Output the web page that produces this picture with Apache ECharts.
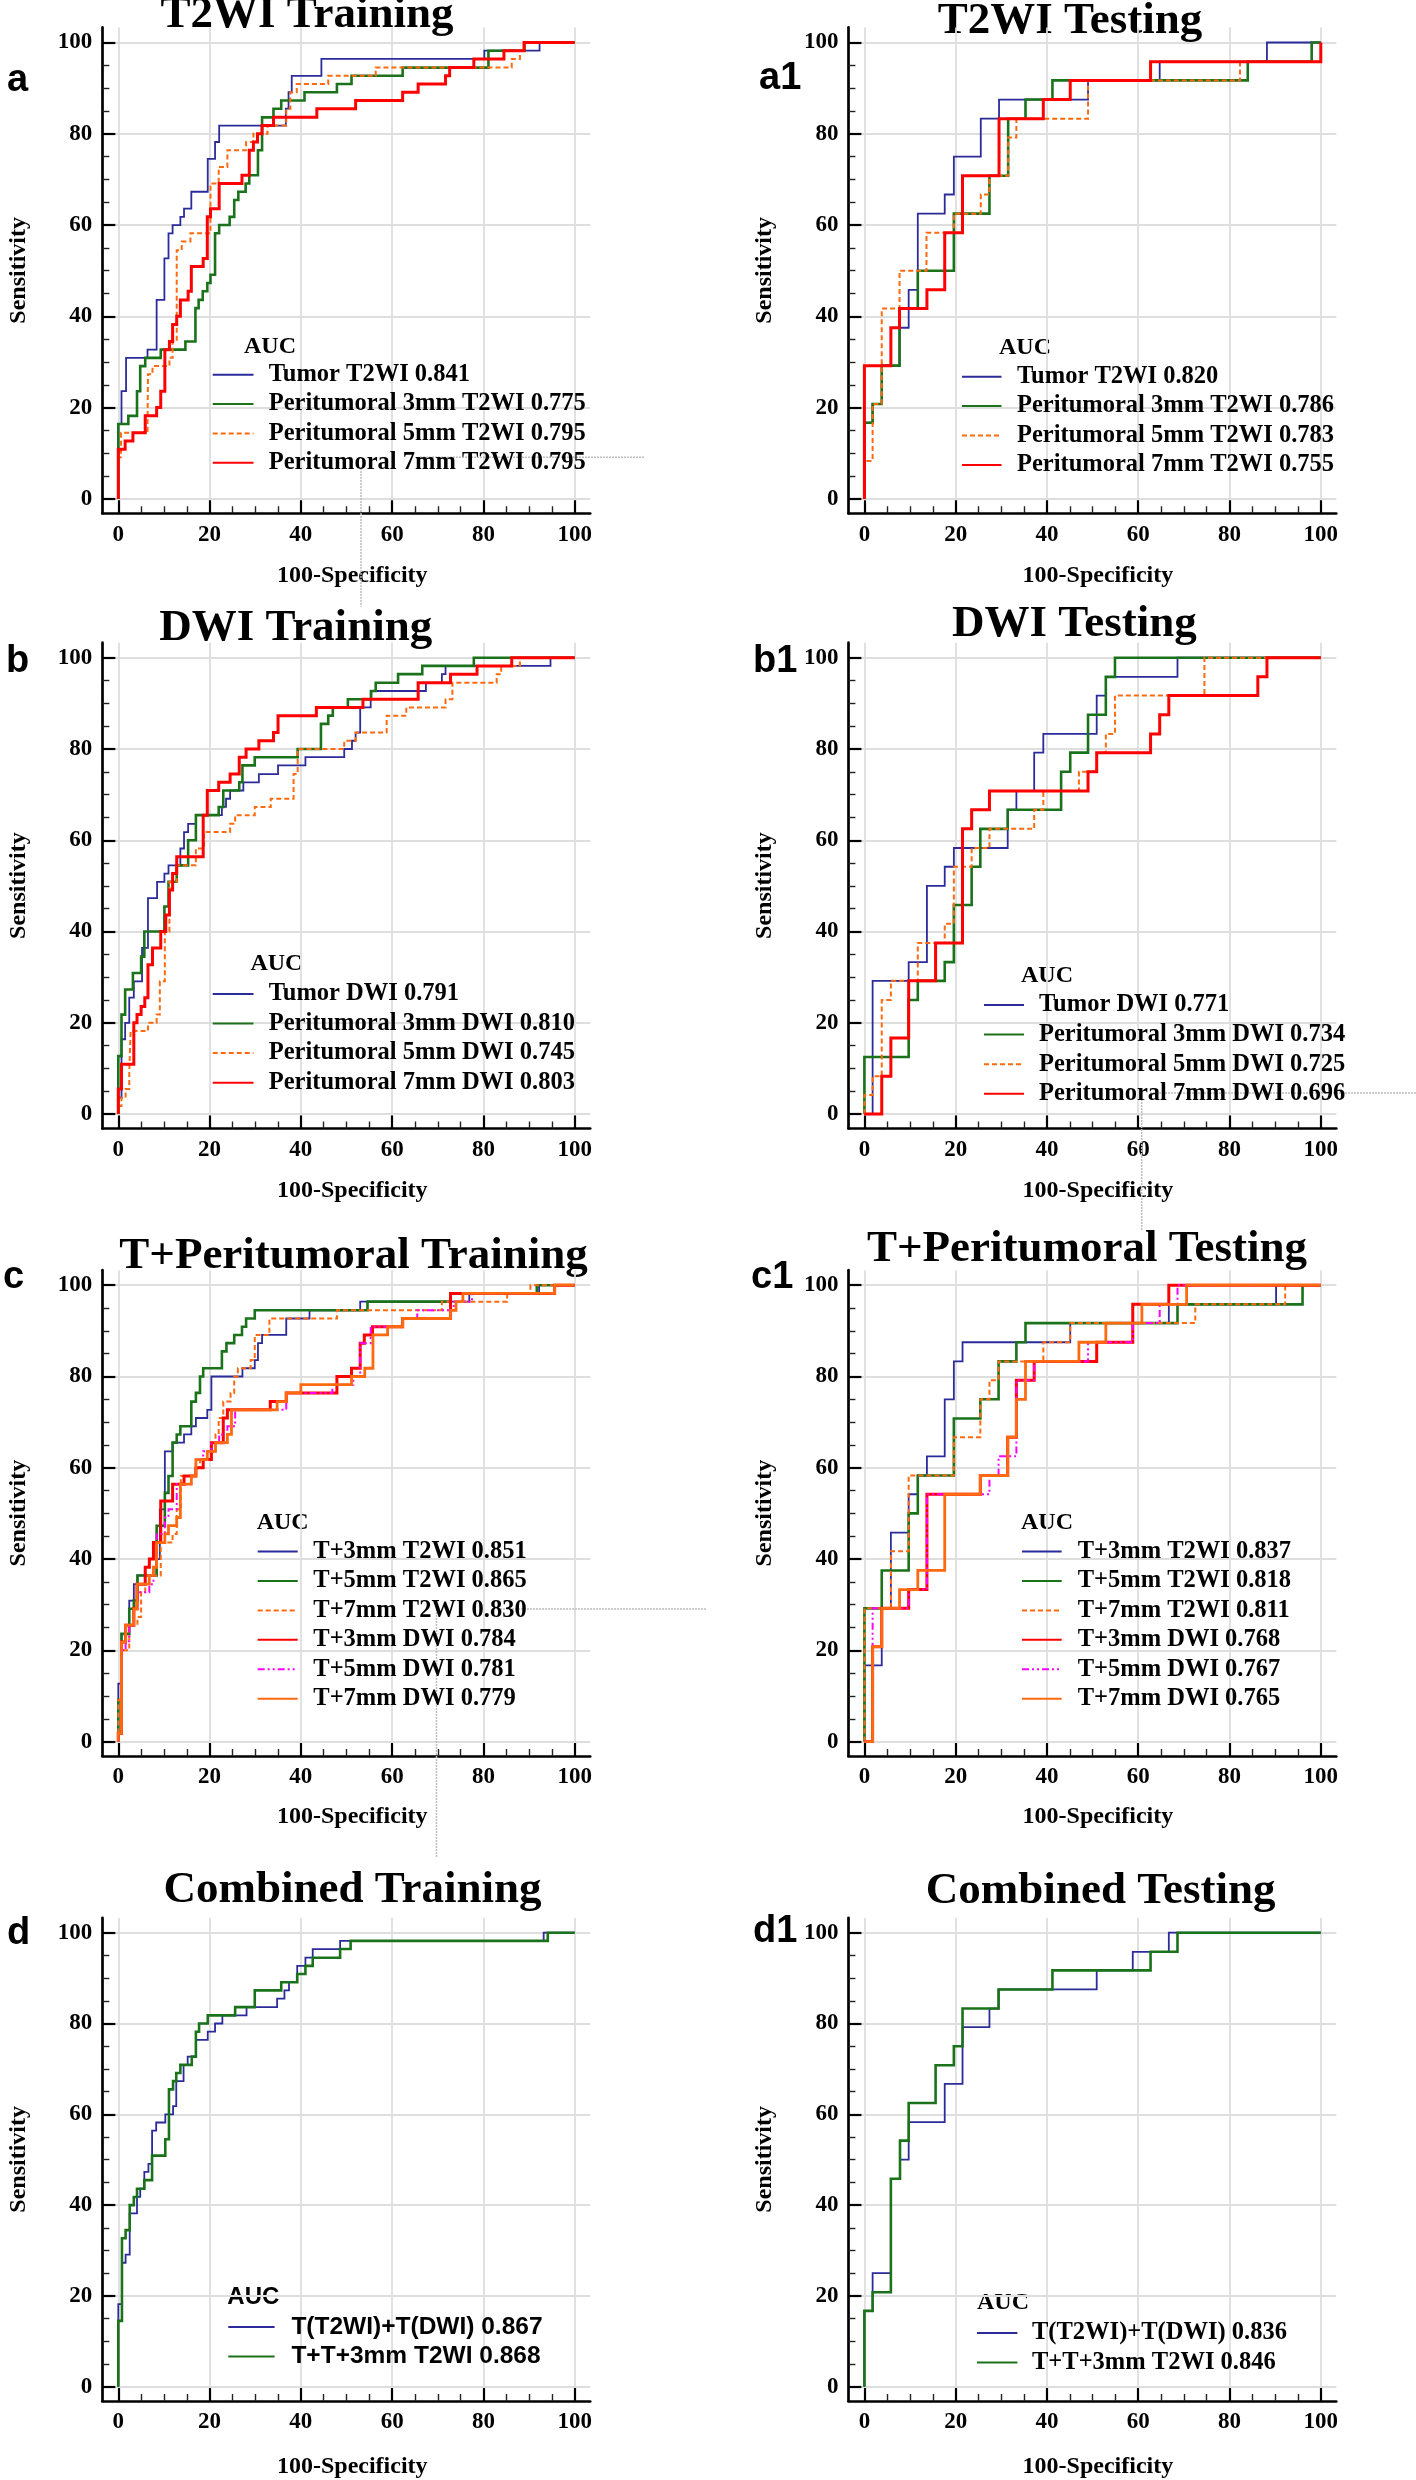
<!DOCTYPE html>
<html><head><meta charset="utf-8">
<script src="https://cdn.jsdelivr.net/npm/echarts@6/dist/echarts.min.js"></script>
<style>html,body{margin:0;padding:0;background:#fff}#c{width:1416px;height:2480px}</style>
</head><body><div id="c"></div>
<script>
// ---------- tick values ----------
const MAJOR = [0, 20, 40, 60, 80, 100];
const MINOR = [5, 10, 15, 25, 30, 35, 45, 50, 55, 65, 70, 75, 85, 90, 95];

// ---------- legend names ----------
const aNames = ['Tumor T2WI 0.841', 'Peritumoral 3mm T2WI 0.775', 'Peritumoral 5mm T2WI 0.795', 'Peritumoral 7mm T2WI 0.795'];
const a1Names = ['Tumor T2WI 0.820', 'Peritumoral 3mm T2WI 0.786', 'Peritumoral 5mm T2WI 0.783', 'Peritumoral 7mm T2WI 0.755'];
const bNames = ['Tumor DWI 0.791', 'Peritumoral 3mm DWI 0.810', 'Peritumoral 5mm DWI 0.745', 'Peritumoral 7mm DWI 0.803'];
const b1Names = ['Tumor DWI 0.771', 'Peritumoral 3mm DWI 0.734', 'Peritumoral 5mm DWI 0.725', 'Peritumoral 7mm DWI 0.696'];
const cNames = ['T+3mm T2WI 0.851', 'T+5mm T2WI 0.865', 'T+7mm T2WI 0.830', 'T+3mm DWI 0.784', 'T+5mm DWI 0.781', 'T+7mm DWI 0.779'];
const c1Names = ['T+3mm T2WI 0.837', 'T+5mm T2WI 0.818', 'T+7mm T2WI 0.811', 'T+3mm DWI 0.768', 'T+5mm DWI 0.767', 'T+7mm DWI 0.765'];
const dNames = ['T(T2WI)+T(DWI) 0.867', 'T+T+3mm T2WI 0.868'];
const d1Names = ['T(T2WI)+T(DWI) 0.836', 'T+T+3mm T2WI 0.846'];

// ---------- ROC curves: [100-specificity where curve rises, sensitivity after rise] ----------
const aBlue = [[0,0],[0,16.4],[0.7,23.6],[1.7,30.9],[6.4,32.7],[8.4,43.6],[10.1,52.7],[11,58.2],[11.9,60],[13.6,61.8],[14.4,63.6],[16,67.3],[19.6,74.5],[21.2,78.2],[22.1,81.8],[36.7,85.5],[37.3,89.1],[38,92.7],[44.5,96.4],[80.2,98.2],[92.3,100],[100,100]];
const aGreen = [[0,0],[0,16.4],[2.2,18.2],[4.1,23.6],[4.8,29.1],[5.9,30.9],[9.3,32.7],[14.7,34.5],[16.9,41.8],[17.6,43.6],[18.5,45.5],[19.5,47.3],[20.2,49.1],[21.2,58.2],[22.1,60],[24.4,61.8],[25.4,65.5],[26.3,67.3],[27.9,69.1],[28.7,70.9],[30.6,76.4],[31.5,83.6],[34,85.5],[35.7,87.3],[40.8,89.1],[47.9,90.9],[51.1,92.7],[62.3,94.5],[81.1,98.2],[89,100],[100,100]];
const aOrange = [[0,0],[0,9.1],[0.6,14.5],[6.4,16.4],[6.5,27.3],[7.5,29.1],[11.2,30.9],[11.9,34.5],[12.8,54.5],[13.9,56.4],[15.8,58.2],[20.2,69.1],[22,72.7],[23.9,76.4],[28,78.2],[29.6,80],[32.7,81.8],[36.8,85.5],[37.7,89.1],[39.1,90.9],[46,92.7],[56.4,94.5],[86.2,96.4],[88,98.2],[89,100],[100,100]];
const aRed = [[0,0],[0,10.9],[1.5,12.7],[3.2,14.5],[5.9,18.2],[8.4,20],[9.3,23.6],[10.2,32.7],[11.2,34.5],[11.9,38.2],[12.8,40],[13.6,43.6],[15.3,45.5],[16,50.9],[18.6,52.7],[19.5,61.8],[20.2,63.6],[22.1,69.1],[27.1,70.9],[28.7,76.4],[29.6,78.2],[30.5,80],[31.5,81.8],[34,83.6],[43.5,85.5],[52,87.3],[62.3,89.1],[65.7,90.9],[71.7,92.7],[72.6,94.5],[77.9,96.4],[84.5,98.2],[88.9,100],[100,100]];

const a1Blue = [[0,0],[0,16.7],[1.8,20.8],[3.8,29.2],[7.7,37.5],[9.7,45.8],[11.7,62.5],[17.6,66.7],[19.6,75],[25.5,83.3],[29.5,87.5],[49,91.7],[64.7,95.8],[88.2,100],[100,100]];
const a1Green = [[0,0],[0,16.7],[1.8,20.8],[3.8,29.2],[7.7,41.7],[11.7,50],[19.6,62.5],[27.4,70.8],[31.5,83.3],[35.3,87.5],[41.2,91.7],[84,95.8],[98,100],[100,100]];
const a1Orange = [[0,0],[0,8.3],[1.8,20.8],[3.8,41.7],[7.7,50],[13.6,58.3],[19.6,62.5],[25.5,66.7],[27.4,70.8],[31.5,79.2],[33.3,83.3],[49,91.7],[82.3,95.8],[100,100]];
const a1Red = [[0,0],[0,29.2],[5.8,37.5],[7.7,41.7],[13.7,45.8],[17.6,58.3],[21.5,70.8],[29.5,83.3],[39.2,87.5],[45.1,91.7],[62.7,95.8],[100,100]];

const bBlue = [[0,0],[0,3.6],[0.7,16.4],[1.5,20],[2.4,25.5],[3.4,29.1],[5.2,36.4],[6.5,47.3],[8.5,50.9],[10.1,52.7],[11,54.5],[13.6,58.2],[14.4,61.8],[15.3,63.6],[17,65.5],[22.7,67.3],[23.6,69.1],[24.5,70.9],[27.4,72.7],[30.8,74.5],[35,76.4],[41,78.2],[49.5,80],[51.2,81.8],[52,83.6],[53,89.1],[55.3,92.7],[67.4,94.5],[70.9,96.4],[71.7,98.2],[94.7,100],[100,100]];
const bGreen = [[0,0],[0,12.7],[0.7,21.8],[1.5,27.3],[3.2,30.9],[5,34.5],[5.7,40],[10.1,45.5],[11,50.9],[12.8,54.5],[15.3,60],[17,65.5],[22,67.3],[23,70.9],[26.5,72.7],[27.2,76.4],[29.9,78.2],[39.3,80],[44.4,85.5],[46,87.3],[47,89.1],[50.3,90.9],[55.4,92.7],[56.4,94.5],[61.3,96.4],[66.6,98.2],[77.9,100],[100,100]];
const bOrange = [[0,0],[0,1.8],[0.7,3.6],[1.6,5.5],[2.4,9.1],[2.7,18.2],[6.5,20],[8.4,21.8],[9.1,29.1],[10.2,40],[11.2,50.9],[12.8,54.5],[17,58.2],[18.8,61.8],[24.5,63.6],[25.6,65.5],[29.9,67.3],[33.4,69.1],[38.4,74.5],[39.3,80],[49.5,81.8],[52,83.6],[58.8,87.3],[63.1,89.1],[71.7,90.9],[73.2,94.5],[82.9,96.4],[83.9,98.2],[88,100],[100,100]];
const bRed = [[0,0],[0,5.5],[0.7,10.9],[3.4,20],[4.1,21.8],[5,23.6],[5.8,25.5],[6.5,32.7],[7.5,36.4],[9.3,40],[10.4,43.6],[11.2,49.1],[11.9,52.7],[12.8,56.4],[18.6,65.5],[19.5,70.9],[22,72.7],[24.5,74.5],[26.5,78.2],[28,80],[30.8,81.8],[34,83.6],[35,87.3],[43.4,89.1],[53.6,90.9],[65.7,94.5],[72.8,96.4],[78.6,98.2],[86.2,100],[100,100]];

const b1Blue = [[0,0],[1.8,29.2],[9.7,33.3],[13.7,50],[17.6,54.2],[19.6,58.3],[31.4,66.7],[33.3,70.8],[37.2,79.2],[39.2,83.3],[50.9,91.7],[52.9,95.8],[68.6,100],[100,100]];
const b1Green = [[0,0],[0,12.5],[9.7,25],[11.7,29.2],[17.6,33.3],[19.6,45.8],[23.5,54.2],[25.4,62.5],[31.4,66.7],[43.1,75],[45.1,79.2],[49,87.5],[52.9,95.8],[54.9,100],[100,100]];
const b1Orange = [[0,0],[0,4.2],[1.8,8.3],[3.8,25],[5.8,29.2],[11.7,37.5],[17.6,41.7],[19.6,54.2],[23.5,58.3],[27.4,62.5],[37.2,66.7],[39.2,70.8],[47,75],[50.9,79.2],[52.9,83.3],[54.9,91.7],[74.5,100],[100,100]];
const b1Red = [[0,0],[3.8,8.3],[5.8,16.7],[9.7,29.2],[15.6,37.5],[21.5,62.5],[23.5,66.7],[27.4,70.8],[49,75],[50.9,79.2],[62.7,83.3],[64.7,87.5],[66.7,91.7],[86.2,95.8],[88.2,100],[100,100]];

const cBlue = [[0,0],[0,12.7],[0.7,23.6],[2.4,30.9],[3.4,34.5],[4.2,36.4],[8.4,40],[9.1,50.9],[10.2,63.6],[11.9,65.5],[14.4,67.3],[16,69.1],[17,70.9],[19.5,72.7],[20.4,80],[27.2,81.8],[29.9,83.6],[30.6,87.3],[31.5,89.1],[36.8,92.7],[41.9,94.5],[53,96.4],[76.9,98.2],[92.2,100],[100,100]];
const cGreen = [[0,0],[0,9.1],[0.7,23.6],[2.4,29.1],[3.4,30.9],[4.2,36.4],[8.4,47.3],[10.2,54.5],[11,58.2],[11.9,65.5],[12.8,67.3],[13.6,69.1],[16,74.5],[17,76.4],[17.9,80],[18.6,81.8],[22.7,85.5],[23.7,87.3],[25.4,89.1],[27.1,90.9],[28,92.7],[29.9,94.5],[54.6,96.4],[72.8,98.2],[91.7,100],[100,100]];
const cOrangeD = [[0,0],[0,9.1],[0.7,20],[2.4,25.5],[4.2,27.3],[5,32.7],[5.9,36.4],[9.3,43.6],[11.9,45.5],[12.8,50.9],[13.7,58.2],[17,60],[17.9,61.8],[19.5,63.6],[21.3,67.3],[22,70.9],[23,74.5],[24.6,76.4],[25.4,80],[26.2,81.8],[29,83.6],[29.9,89.1],[33.1,92.7],[47.9,94.5],[70.9,96.4],[85.2,98.2],[90.3,100],[100,100]];
const cRed = [[0,0],[0,1.8],[0.7,21.8],[1.6,25.5],[3.4,29.1],[4.1,34.5],[5.9,38.2],[6.8,40],[7.7,43.6],[9.3,52.7],[11.9,56.4],[14.4,58.2],[17,60],[18.6,61.8],[20.4,65.5],[23,70.9],[23.9,72.7],[33.3,74.5],[36.8,76.4],[47.9,80],[51.1,81.8],[53,87.3],[53.9,89.1],[55.7,90.9],[62.3,92.7],[72.8,98.2],[95.6,100],[100,100]];
const cMagenta = [[0,0],[0,1.8],[0.7,20],[1.6,22],[2.4,25.5],[3.4,29.1],[4.2,32.7],[6.8,34.5],[7.7,38.2],[8.4,45.5],[10.2,49.1],[11,50.9],[12.8,56.4],[16,58.2],[17,61.8],[18.6,63.6],[20.4,65.5],[22.1,67.3],[23.9,69.1],[25.6,72.7],[36.8,76.4],[46.9,78.2],[51.5,80],[53,87.3],[55.3,90.9],[62.3,92.7],[65.5,94.5],[73.5,96.4],[77.5,98.2],[95.6,100],[100,100]];
const cOrangeS = [[0,0],[0,1.8],[0.7,21.8],[1.6,25.5],[3.4,29.1],[4.1,34.5],[6.8,36.4],[7.7,38.2],[8.4,43.6],[10.2,45.5],[11,47.3],[12.8,49.1],[13.6,56.4],[16,58.2],[17,61.8],[19.5,63.6],[21.3,65.5],[23.9,67.3],[24.8,72.7],[34.8,74.5],[36.8,76.4],[40,78.2],[51.1,80],[54,81.8],[55.8,89.1],[59,90.9],[62.3,92.7],[72.8,94.5],[74,96.4],[75.5,98.2],[95.6,100],[100,100]];

const c1Blue = [[0,0],[0,16.7],[3.8,29.2],[5.8,45.8],[9.7,54.2],[11.7,58.3],[13.7,62.5],[17.6,75],[19.6,83.3],[21.5,87.5],[45.1,91.7],[66.7,95.8],[90.2,100],[100,100]];
const c1Green = [[0,0],[0,29.2],[3.8,37.5],[9.7,50],[11.7,58.3],[19.6,70.8],[25.4,75],[29.4,83.3],[33.3,87.5],[35.3,91.7],[68.6,95.8],[96,100],[100,100]];
const c1OrangeD = [[0,0],[0,29.2],[5.8,41.7],[9.7,58.3],[19.6,66.7],[25.4,75],[27.4,79.2],[29.4,83.3],[39.2,87.5],[45.1,91.7],[72.5,95.8],[92.2,100],[100,100]];
const c1Red = [[0,0],[1.8,20.8],[3.8,29.2],[9.7,33.3],[13.7,54.2],[25.4,58.3],[31.4,66.7],[33.3,79.2],[37.2,83.3],[50.9,87.5],[58.8,95.8],[66.7,100],[100,100]];
const c1Magenta = [[0,0],[1.8,29.2],[9.7,33.3],[13.7,54.2],[27.4,58.3],[29.4,62.5],[33.3,79.2],[37.2,83.3],[49,87.5],[58.8,91.7],[64.7,95.8],[68.6,100],[100,100]];
const c1OrangeS = [[0,0],[1.8,20.8],[3.8,29.2],[7.7,33.3],[11.7,37.5],[17.6,54.2],[25.4,58.3],[31.4,66.7],[33.3,75],[35.3,83.3],[47,87.5],[52.9,91.7],[60.8,95.8],[70.6,100],[100,100]];

const dBlue = [[0,0],[0,18.2],[0.8,27.3],[1.6,29.1],[2.5,38.2],[4.1,41.8],[4.8,43.6],[5.7,47.3],[6.6,49.1],[7.4,56.4],[8.3,58.2],[10.3,60],[12,61.8],[12.7,67.3],[14.3,70.9],[15.2,72.7],[17,76.4],[19.6,78.2],[21.2,80],[22.8,81.8],[28.1,83.6],[34.8,85.5],[36.4,87.3],[37.4,89.1],[39.2,92.7],[41,94.5],[42.6,96.4],[48.6,98.2],[93.2,100],[100,100]];
const dGreen = [[0,0],[0,14.5],[0.8,32.7],[1.6,34.5],[2.5,40],[3.4,41.8],[4.1,43.6],[5.7,45.5],[7.4,50.9],[10.3,54.5],[11.1,65.5],[12,67.3],[12.7,69.1],[13.6,70.9],[16.1,72.7],[17,78.2],[17.7,80],[19.6,81.8],[25.6,83.6],[29.9,87.3],[35.7,89.1],[39.2,90.9],[41,92.7],[42.6,94.5],[48.6,96.4],[50.9,98.2],[94.1,100],[100,100]];

const d1Blue = [[0,0],[0,16.7],[1.8,25],[5.8,45.8],[7.8,50],[9.7,58.3],[17.6,66.7],[21.5,79.2],[27.4,83.3],[29.4,87.5],[50.9,91.7],[58.8,95.8],[66.7,100],[100,100]];
const d1Green = [[0,0],[0,16.7],[1.8,20.8],[5.8,45.8],[7.8,54.2],[9.7,62.5],[15.6,70.8],[19.6,75],[21.5,83.3],[29.4,87.5],[41.2,91.7],[62.7,95.8],[68.6,100],[100,100]];

// ---------- styles / layout ----------
const SERIF = '"Liberation Serif", "Times New Roman", serif';
const SANS = '"Liberation Sans", Arial, sans-serif';
const STYLES = {
  blue:    { color: '#2B2B9C', width: 1.8, type: 'solid' },
  green:   { color: '#1A721A', width: 2.6, type: 'solid' },
  orangeD: { color: '#FF6A10', width: 2.0, type: [5, 3] },
  red:     { color: '#FF0000', width: 3.0, type: 'solid' },
  magenta: { color: '#FF00FF', width: 2.0, type: [7, 3, 2, 3, 2, 3] },
  orangeS: { color: '#FF6A10', width: 2.8, type: 'solid' }
};
const PPU = 4.564, XMIN = -3.5, XMAX = 103.4, YMIN = -3.15, YMAX = 103.3;
const COLX0 = [118.3, 864.4];
const ROWY100 = [42.5, 657.7, 1285.2, 1932.8];
const XNAMEGAP = [51, 50, 49, 54];

const PANELS = [
  { col:0,row:0, title:'T2WI Training', tx:307, ty:15.4, letter:'a', lx:7, ly:80.6, auc:[244,346.4], leg:[211.7,374.3,28.3,40.8,15.2], font:SERIF,
    names:aNames, data:[aBlue,aGreen,aOrange,aRed], st:['blue','green','orangeD','red'], npad:12 },
  { col:1,row:0, title:'T2WI Testing', tx:1070, ty:21.2, letter:'a1', lx:759, ly:78.8, auc:[999,347.5], leg:[961,376.2,28.4,39.5,15.5], font:SERIF,
    names:a1Names, data:[a1Blue,a1Green,a1Orange,a1Red], st:['blue','green','orangeD','red'], npad:11 },
  { col:0,row:1, title:'DWI Training', tx:295.7, ty:628.3, letter:'b', lx:6, ly:661.9, auc:[250.4,963.8], leg:[211.7,993.4,28.6,40.8,15.2], font:SERIF,
    names:bNames, data:[bBlue,bGreen,bOrange,bRed], st:['blue','green','orangeD','red'], npad:12 },
  { col:1,row:1, title:'DWI Testing', tx:1074.4, ty:624.3, letter:'b1', lx:753, ly:661.8, auc:[1021,975.6], leg:[983,1004.5,28.6,40,15], font:SERIF,
    names:b1Names, data:[b1Blue,b1Green,b1Orange,b1Red], st:['blue','green','orangeD','red'], npad:11 },
  { col:0,row:2, title:'T+Peritumoral Training', tx:353.5, ty:1256.2, letter:'c', lx:3, ly:1277.8, auc:[256.7,1522.5], leg:[256.7,1551,28.45,40,15.6], font:SERIF,
    names:cNames, data:[cBlue,cGreen,cOrangeD,cRed,cMagenta,cOrangeS], st:['blue','green','orangeD','red','magenta','orangeS'], npad:12 },
  { col:1,row:2, title:'T+Peritumoral Testing', tx:1087, ty:1249.1, letter:'c1', lx:751, ly:1277.8, auc:[1021,1522.5], leg:[1021,1551,28.45,39.7,16], font:SERIF,
    names:c1Names, data:[c1Blue,c1Green,c1OrangeD,c1Red,c1Magenta,c1OrangeS], st:['blue','green','orangeD','red','magenta','orangeS'], npad:11 },
  { col:0,row:3, title:'Combined Training', tx:352.5, ty:1890.3, letter:'d', lx:7, ly:1933.8, auc:[227.3,2297], leg:[227.3,2326.6,28.4,46.3,16.8], font:SANS,
    names:dNames, data:[dBlue,dGreen], st:['blue','green'], npad:12 },
  { col:1,row:3, title:'Combined Testing', tx:1100.7, ty:1891.5, letter:'d1', lx:753, ly:1931.8, auc:[977,2302.9], leg:[976,2332.5,28.5,40.4,14.6], font:SERIF,
    names:d1Names, data:[d1Blue,d1Green], st:['blue','green'], npad:11 }
];

const grids = [], xAxes = [], yAxes = [], series = [], legends = [], graphics = [];
const lab = { fontFamily: SERIF, fontWeight: 'bold', fontSize: 23, color: '#000' };
const nameStyle = { fontFamily: SERIF, fontWeight: 'bold', fontSize: 24, color: '#000' };

function txt(x, y, text, font, align) {
  return { type: 'text', x: x, y: y, silent: true,
    style: { text: text, font: font, fill: '#000', textAlign: align, align: align, textVerticalAlign: 'middle', verticalAlign: 'middle' } };
}

PANELS.forEach(function (p, i) {
  const left = COLX0[p.col] + XMIN * PPU;
  const top = ROWY100[p.row] - (YMAX - 100) * PPU;
  grids.push({ left: left, top: top, width: (XMAX - XMIN) * PPU, height: (YMAX - YMIN) * PPU, containLabel: false });

  xAxes.push({ type: 'value', gridIndex: i, position: 'bottom', min: XMIN, max: XMAX,
    axisLine: { show: true, onZero: false, lineStyle: { color: '#000', width: 2.7 } },
    axisTick: { show: true, inside: true, length: 13, customValues: MAJOR, lineStyle: { color: '#000', width: 2.2 } },
    axisLabel: Object.assign({ show: true, customValues: MAJOR, margin: 10 }, lab),
    splitLine: { show: true, lineStyle: { color: '#DEDEDE', width: 1.8 } },
    name: '100-Specificity', nameLocation: 'middle', nameGap: XNAMEGAP[p.row],
    nameTextStyle: Object.assign({ padding: [0, 0, 0, p.npad] }, nameStyle) });
  xAxes.push({ type: 'value', gridIndex: i, position: 'bottom', min: XMIN, max: XMAX,
    axisLine: { show: false, onZero: false },
    axisTick: { show: true, inside: true, length: 7, customValues: MINOR, lineStyle: { color: '#222', width: 1.4 } },
    axisLabel: { show: false }, splitLine: { show: false } });

  yAxes.push({ type: 'value', gridIndex: i, position: 'left', min: YMIN, max: YMAX,
    axisLine: { show: true, onZero: false, lineStyle: { color: '#000', width: 2.7 } },
    axisTick: { show: true, inside: true, length: 13, customValues: MAJOR, lineStyle: { color: '#000', width: 2.2 } },
    axisLabel: Object.assign({ show: true, customValues: MAJOR, margin: 10 }, lab),
    splitLine: { show: true, lineStyle: { color: '#DEDEDE', width: 1.8 } },
    name: 'Sensitivity', nameLocation: 'middle', nameGap: 72, nameRotate: 90, nameTextStyle: nameStyle });
  yAxes.push({ type: 'value', gridIndex: i, position: 'left', min: YMIN, max: YMAX,
    axisLine: { show: false, onZero: false },
    axisTick: { show: true, inside: true, length: 7, customValues: MINOR, lineStyle: { color: '#222', width: 1.4 } },
    axisLabel: { show: false }, splitLine: { show: false } });

  p.names.forEach(function (nm, k) {
    const s = STYLES[p.st[k]];
    series.push({ type: 'line', name: nm, xAxisIndex: 2 * i, yAxisIndex: 2 * i, data: p.data[k],
      step: 'end', symbol: 'none', showSymbol: false, silent: true, z: 3 + k,
      color: s.color, itemStyle: { color: s.color },
      lineStyle: { color: s.color, width: s.width, type: s.type, cap: 'butt', join: 'miter' } });
  });

  legends.push({ orient: 'vertical', left: p.leg[0], top: p.leg[1] - 12, padding: 0,
    itemWidth: p.leg[3], itemHeight: 14, itemGap: p.leg[2] - 24, selectedMode: false,
    itemStyle: { opacity: 0 },
    textStyle: { fontFamily: p.font, fontWeight: 'bold', fontSize: 24.5, color: '#000', lineHeight: 24, padding: [0, 0, 0, p.leg[4] - 5] },
    data: p.names });

  graphics.push(txt(p.tx, p.ty, p.title, 'bold 45px ' + SERIF, 'center'));
  graphics.push(txt(p.lx, p.ly, p.letter, 'bold 38px ' + SANS, 'left'));
  graphics.push(txt(p.auc[0], p.auc[1], 'AUC', 'bold 24px ' + p.font, 'left'));
});

// faint stray guide lines present in the source figure
function guide(x1, y1, x2, y2) {
  return { type: 'line', silent: true, shape: { x1: x1, y1: y1, x2: x2, y2: y2 },
    style: { stroke: '#BDBDBD', lineWidth: 1.5, lineDash: [2, 1] }, z: 1 };
}
graphics.push(guide(420, 457.3, 645, 457.3), guide(361, 468, 361, 607));
graphics.push(guide(1150, 1093, 1416, 1093), guide(1141.7, 1093, 1141.7, 1230));
graphics.push(guide(497, 1609, 706, 1609), guide(436.5, 1609, 436.5, 1858));

const chart = echarts.init(document.getElementById('c'), null, { renderer: 'canvas', width: 1416, height: 2480 });
chart.setOption({
  backgroundColor: '#ffffff',
  animation: false,
  grid: grids, xAxis: xAxes, yAxis: yAxes, series: series, legend: legends,
  graphic: { elements: graphics }
});
</script>
</body></html>
